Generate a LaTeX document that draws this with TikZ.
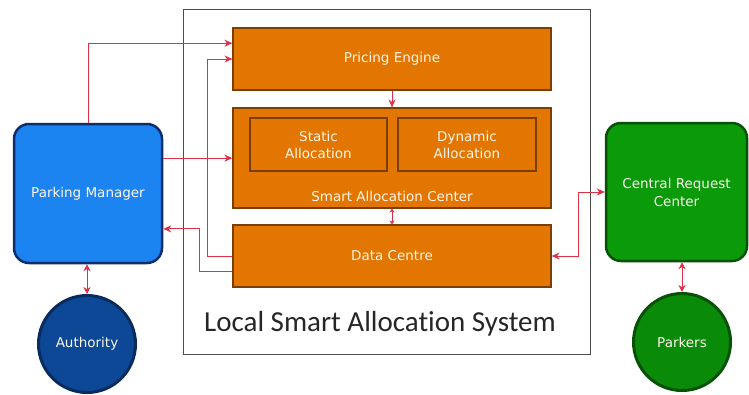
\documentclass[tikz,border=0pt]{standalone}
\usepackage{fontspec}
\setmainfont{DejaVu Sans}
\newfontfamily\captionfont[Ligatures=NoCommon]{Carlito}
\usepackage{tikz}
\usetikzlibrary{shapes,arrows,arrows.meta,calc,positioning}
\definecolor{boxorange}{RGB}{226,118,0}
\definecolor{boxbrown}{RGB}{122,62,0}
\definecolor{mgrblue}{RGB}{28,132,240}
\definecolor{mgrnavy}{RGB}{13,46,110}
\definecolor{authblue}{RGB}{12,72,150}
\definecolor{authnavy}{RGB}{10,43,94}
\definecolor{crcgreen}{RGB}{10,154,10}
\definecolor{crcdark}{RGB}{7,82,7}
\definecolor{linkred}{RGB}{222,48,70}
\definecolor{labelwhite}{RGB}{255,246,236}
\tikzstyle{block}=[rectangle,draw=boxbrown,fill=boxorange,line width=1.2pt,
  text=labelwhite,inner sep=0pt,font=\fontsize{13.5}{17}\selectfont,align=center]
\tikzstyle{actor}=[rectangle,rounded corners=15pt,line width=2.5pt,text=labelwhite,
  inner sep=0pt,font=\fontsize{13.5}{18}\selectfont,align=center]
\tikzstyle{party}=[circle,line width=3pt,text=labelwhite,inner sep=0pt,
  minimum size=97pt,font=\fontsize{13.5}{17}\selectfont]
\tikzstyle{link}=[draw=linkred,line width=0.8pt,
  arrows={-Stealth[length=8pt,width=7pt,fill=linkred]}]
\tikzstyle{twolink}=[draw=linkred,line width=0.8pt,
  arrows={Stealth[length=7pt,width=7pt]-Stealth[length=7pt,width=7pt]}]

\begin{document}
\begin{tikzpicture}[x=1pt,y=-1pt]
  \useasboundingbox (0,0) rectangle (749,394);
  \node[rectangle,draw=black!70,line width=1pt,minimum width=407pt,
    minimum height=345pt,inner sep=0pt] (lsas) at (386.5,181.5) {};
  \node[font=\captionfont\fontsize{29}{32}\selectfont,text=black!85]
    (lsaslabel) at (380,324) {Local Smart Allocation System};

  \node[block,minimum width=318pt,minimum height=62pt] (pricing) at (392,59)
    {Pricing Engine};
  \node[block,minimum width=318pt,minimum height=100pt] (smartalloc) at (392,158) {};
  \node[block,minimum width=137pt,minimum height=53pt] (static) at (318.5,144.5)
    {Static\\Allocation};
  \node[block,minimum width=138pt,minimum height=53pt] (dynamic) at (467,144.5)
    {Dynamic\\Allocation};
  \node[text=labelwhite,font=\fontsize{13.5}{17}\selectfont] (smartlabel) at (392,196)
    {Smart Allocation Center};
  \node[block,minimum width=318pt,minimum height=62pt] (datacentre) at (392,256)
    {Data Centre};

  \node[actor,draw=mgrnavy,fill=mgrblue,minimum width=148pt,minimum height=139pt]
    (parkmgr) at (88,193.5) {Parking Manager};
  \node[party,draw=authnavy,fill=authblue] (authority) at (87,344) {Authority};
  \node[actor,draw=crcdark,fill=crcgreen,minimum width=141pt,minimum height=138pt]
    (central) at (676.5,192) {Central Request\\Center};
  \node[party,draw=crcdark,fill=crcgreen!90!black] (parkers) at (682,342) {Parkers};

  \coordinate (mgrout) at ($(parkmgr.north east)!0.25!(parkmgr.south east)$);
  \coordinate (mgrin) at ($(parkmgr.north east)!0.75!(parkmgr.south east)$);
  \coordinate (priceup) at ($(pricing.north west)!0.25!(pricing.south west)$);
  \coordinate (dataout) at ($(datacentre.north west)!0.75!(datacentre.south west)$);

  % links from the parking manager
  \draw[link] (parkmgr.north) |- (priceup);
  \draw[link] (mgrout) -- (mgrout -| smartalloc.west);
  \draw[link] (dataout) -- +(-33,0) |- (mgrin);
  \draw[twolink] (authority.north |- parkmgr.south) -- (authority.north);

  % links inside the local system
  \draw[link] (datacentre.west) -- +(-25,0) |- (pricing.west);
  \draw[link] (pricing.south) -- (smartalloc.north);
  \draw[draw=linkred,line width=0.8pt,arrows={Stealth[length=4pt,width=5pt]-Stealth[length=4pt,width=5pt]}]
    (smartalloc.south) -- (datacentre.north);

  % links to the central request center
  \draw[link,arrows={Stealth[length=8pt,width=7pt]-Stealth[length=8pt,width=7pt]}]
    (datacentre.east) -- +(27,0) |- (central.west);
  \draw[twolink] (parkers.north |- central.south) -- (parkers.north);
\end{tikzpicture}
\end{document}
